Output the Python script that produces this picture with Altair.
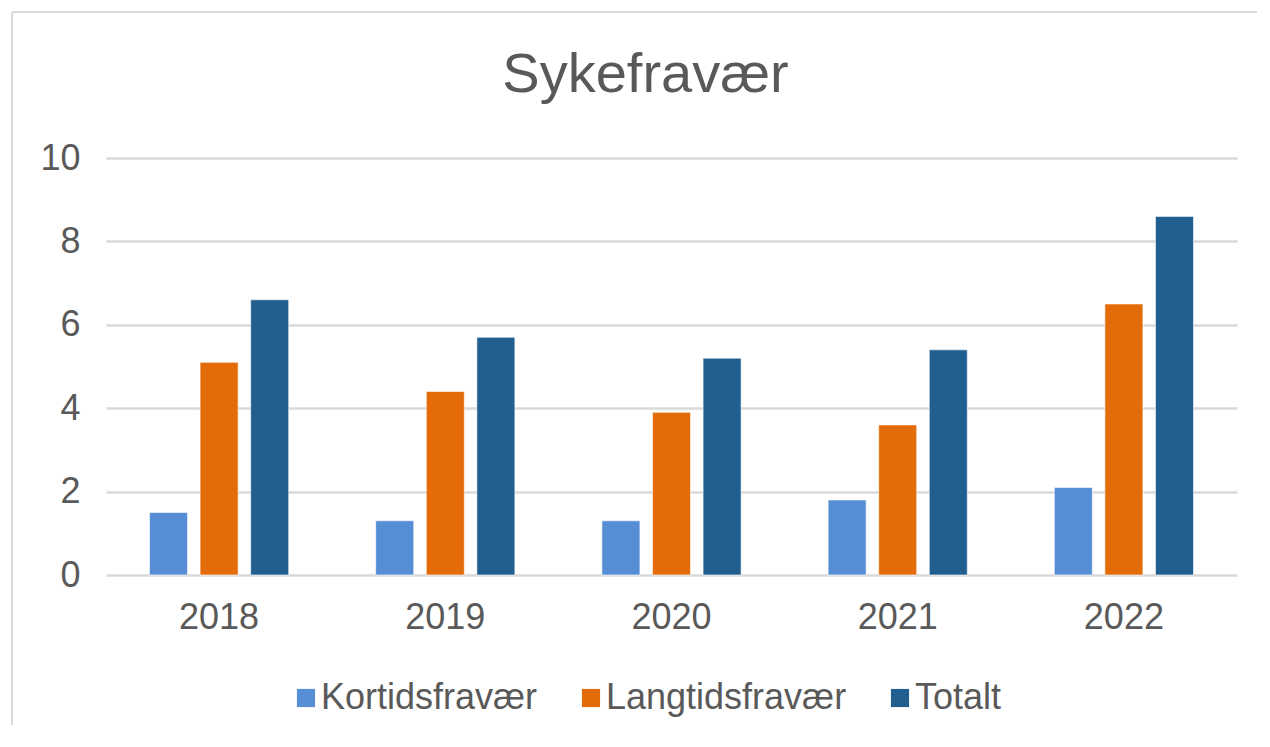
import altair as alt
import pandas as pd

years = ["2018", "2019", "2020", "2021", "2022"]
series = ["Kortidsfravær", "Langtidsfravær", "Totalt"]
kortid = [1.5, 1.3, 1.3, 1.8, 2.1]
langtid = [5.1, 4.4, 3.9, 3.6, 6.5]
totalt = [6.6, 5.7, 5.2, 5.4, 8.6]
colors = ["#558ED5", "#E36C09", "#215F91"]

rows = []
for i, y in enumerate(years):
    for s, vals in zip(series, [kortid, langtid, totalt]):
        rows.append({"År": y, "Serie": s, "Verdi": vals[i]})
df = pd.DataFrame(rows)

FONT = "Liberation Sans"
TXT = "#595959"
GRID = "#D9D9D9"

bars = alt.Chart(df).mark_bar(stroke="white", strokeWidth=0.6).encode(
    x=alt.X("År:N", sort=years, title=None,
            scale=alt.Scale(paddingInner=0, paddingOuter=0),
            axis=alt.Axis(labelAngle=0, ticks=False, domain=False, labelFontSize=36,
                          labelColor=TXT, labelFont=FONT, labelPadding=25, grid=False)),
    xOffset=alt.XOffset("Serie:N", sort=series,
                        scale=alt.Scale(paddingInner=0.248, paddingOuter=0.86)),
    y=alt.Y("Verdi:Q", title=None,
            scale=alt.Scale(domain=[0, 10]),
            axis=alt.Axis(values=[0, 2, 4, 6, 8, 10], ticks=False, domain=False,
                          labelFontSize=36, labelColor=TXT, labelFont=FONT,
                          labelPadding=26, gridColor=GRID, gridWidth=2.5)),
    color=alt.Color("Serie:N", sort=series,
                    scale=alt.Scale(domain=series, range=colors),
                    legend=alt.Legend(title=None, orient="none", direction="horizontal",
                                      legendX=182, legendY=522,
                                      symbolType="square", symbolSize=330,
                                      symbolStrokeWidth=0, labelFontSize=36,
                                      labelColor=TXT, labelFont=FONT, labelLimit=0,
                                      labelOffset={"expr": "-3"}, columnPadding=35)),
)

border = alt.Chart(pd.DataFrame({"k": [0]})).mark_rule(color="#D9D9D9", strokeWidth=2).encode(
    x=alt.value(-94), x2=alt.value(1164), y=alt.value(-146)
)
border_left = alt.Chart(pd.DataFrame({"k": [0]})).mark_rule(color="#D9D9D9", strokeWidth=2).encode(
    x=alt.value(-94), y=alt.value(-146), y2=alt.value(600)
)

chart = alt.layer(bars, border, border_left).properties(
    width=1131, height=417,
    background="white",
    title=alt.TitleParams("Sykefravær", fontSize=56, font=FONT, color=TXT,
                          fontWeight="normal", anchor="middle", dx=-26, offset=-93),
    autosize=alt.AutoSizeParams(type="none"),
    padding={"left": 98, "top": 150, "right": 20, "bottom": 150},
).configure_view(stroke="transparent", strokeWidth=0)

chart.save("out.html", embed_options={"renderer": "svg", "actions": False})
